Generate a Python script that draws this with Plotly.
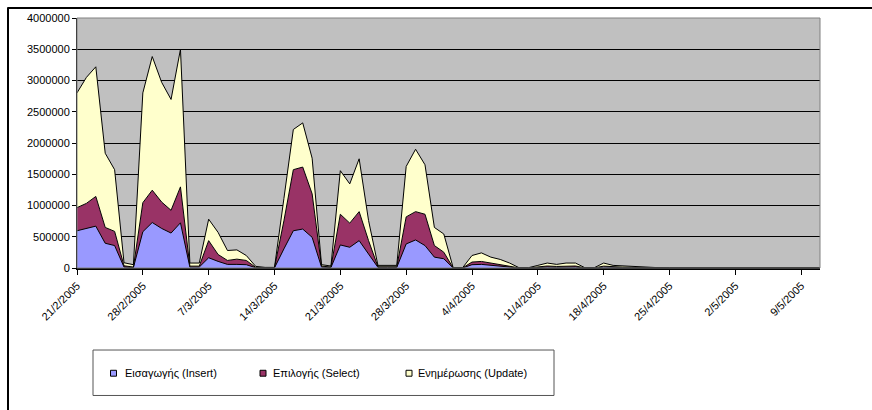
import pandas as pd
import plotly.graph_objects as go

# ---- data (values in thousands) ----
dates = pd.date_range("2005-02-21", "2005-05-11", freq="D")

insert_k = [596, 633, 670, 396, 359, 15, 8, 580, 728, 633, 559, 723, 15, 15, 164, 106, 58, 58, 53, 5,
            3, 3, 306, 596, 623, 491, 15, 8, 369, 332, 438, 227, 10, 10, 10, 385, 449, 359, 174, 148,
            0, 1, 53, 58, 42, 32, 15, 1, 1, 10, 15, 12, 15, 15, 1, 1, 15, 8, 6, 5,
            3, 1, 1, 1, 1, 1, 1, 1, 1, 1, 1, 1, 1, 1, 1, 1, 1, 1, 1, 1]
select_top_k = [966, 1034, 1145, 649, 586, 35, 15, 1045, 1245, 1055, 923, 1298, 30, 30, 438, 216, 121, 142, 121, 10,
                6, 6, 755, 1573, 1615, 1187, 30, 16, 860, 718, 902, 438, 20, 20, 20, 818, 902, 860, 359, 253,
                1, 2, 95, 105, 79, 58, 35, 2, 2, 20, 32, 25, 32, 32, 2, 2, 30, 18, 14, 11,
                7, 2, 2, 2, 2, 2, 2, 2, 2, 2, 2, 2, 2, 2, 2, 2, 2, 2, 2, 2]
total_k = [2802, 3050, 3219, 1836, 1573, 84, 53, 2802, 3383, 2971, 2697, 3499, 79, 79, 781, 570, 280, 290, 200, 26,
           10, 10, 1113, 2216, 2322, 1757, 53, 32, 1557, 1346, 1747, 760, 42, 42, 42, 1625, 1900, 1652, 649, 544,
           3, 5, 200, 242, 174, 137, 79, 5, 5, 42, 79, 58, 79, 79, 5, 5, 79, 42, 32, 26,
           16, 4, 4, 4, 4, 4, 4, 4, 4, 4, 4, 4, 4, 4, 4, 4, 4, 4, 4, 4]

insert_vals = [v * 1000 for v in insert_k]
select_vals = [(s - i) * 1000 for s, i in zip(select_top_k, insert_k)]
update_vals = [(t - s) * 1000 for t, s in zip(total_k, select_top_k)]

series_names = ["Εισαγωγής (Insert)", "Επιλογής (Select)", "Ενημέρωσης (Update)"]
series_colors = ["#9999FF", "#993366", "#FFFFCC"]

tick_dates = ["2005-02-21", "2005-02-28", "2005-03-07", "2005-03-14", "2005-03-21", "2005-03-28",
              "2005-04-04", "2005-04-11", "2005-04-18", "2005-04-25", "2005-05-02", "2005-05-09"]
tick_labels = ["21/2/2005", "28/2/2005", "7/3/2005", "14/3/2005", "21/3/2005", "28/3/2005",
               "4/4/2005", "11/4/2005", "18/4/2005", "25/4/2005", "2/5/2005", "9/5/2005"]

y_ticks = [0, 500000, 1000000, 1500000, 2000000, 2500000, 3000000, 3500000, 4000000]

FONT = "Liberation Sans, Arial, sans-serif"

fig = go.Figure()
for name, vals, col in zip(series_names, [insert_vals, select_vals, update_vals], series_colors):
    fig.add_trace(go.Scatter(x=dates, y=vals, name=name, mode="lines", stackgroup="one",
                             line=dict(color="black", width=1), fillcolor=col, showlegend=False))

L, R, T, B = 77, 52, 15, 142
W, H = 872, 410
pw, ph = W - L - R, H - T - B

def px(x):
    return (x - L) / pw

def py(y):
    return (H - B - y) / ph

shapes = [
    # outer chart frame (left and top edges)
    dict(type="line", xref="paper", yref="paper", x0=px(8), x1=px(8), y0=py(4), y1=py(412),
         line=dict(color="black", width=2)),
    dict(type="line", xref="paper", yref="paper", x0=px(8), x1=px(874), y0=py(5), y1=py(5),
         line=dict(color="black", width=2)),
    # plot area border
    dict(type="rect", xref="paper", yref="paper", x0=0, x1=1, y0=0, y1=1,
         line=dict(color="#808080", width=1), layer="above"),
    # legend box
    dict(type="rect", xref="paper", yref="paper", x0=px(93), x1=px(554), y0=py(397), y1=py(351),
         line=dict(color="#555555", width=1), fillcolor="white"),
]

# manual legend (square + text)
legend_sq_x = [110.5, 260, 406]
legend_txt_x = [123, 271, 416]
annotations = []
for name, col, sx, tx in zip(series_names, series_colors, legend_sq_x, legend_txt_x):
    shapes.append(dict(type="rect", xref="paper", yref="paper", x0=px(sx), x1=px(sx + 6),
                       y0=py(377.5), y1=py(371.5), line=dict(color="black", width=1), fillcolor=col))
    annotations.append(dict(text=name, xref="paper", yref="paper", x=px(tx), y=py(374.5),
                            xanchor="left", yanchor="middle", showarrow=False,
                            font=dict(family=FONT, size=11, color="black")))

fig.update_layout(
    width=W, height=H,
    margin=dict(l=L, r=R, t=T, b=B),
    paper_bgcolor="white", plot_bgcolor="#C0C0C0",
    font=dict(family=FONT, size=11, color="black"),
    shapes=shapes, annotations=annotations,
    showlegend=False,
    xaxis=dict(range=["2005-02-21", "2005-05-11"], tickvals=tick_dates, ticktext=tick_labels,
               tickangle=-45, ticks="outside", ticklen=5, tickcolor="black", showgrid=False,
               showline=True, linecolor="black", linewidth=2, zeroline=False,
               tickfont=dict(family=FONT, size=11)),
    yaxis=dict(range=[0, 4000000], tickvals=y_ticks, ticktext=[str(v) for v in y_ticks],
               ticks="outside", ticklen=4, tickcolor="black", showgrid=True, gridcolor="black",
               gridwidth=1, showline=True, linecolor="black", linewidth=1, zeroline=False,
               tickfont=dict(family=FONT, size=11)),
)

fig.write_html("out.html", config={"displayModeBar": False},
               post_script="document.body.style.margin='0';document.body.style.overflow='hidden';")
